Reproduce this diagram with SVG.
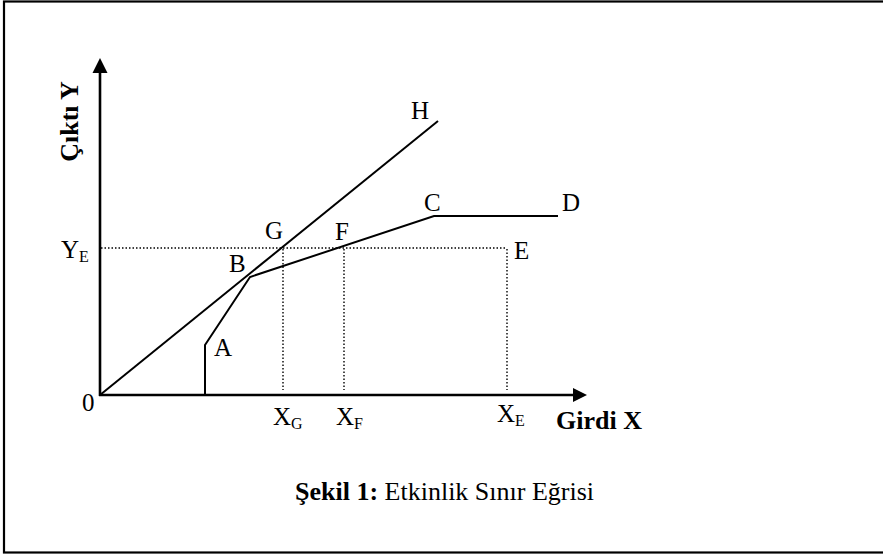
<svg xmlns="http://www.w3.org/2000/svg" width="883" height="555" viewBox="0 0 883 555">
<style>
text{font-family:"Liberation Serif","Times New Roman",serif;fill:#000}
.lbl{font-size:25px}
.sub{font-size:16px}
.bold{font-weight:bold;font-size:26px}
.cap{font-size:26px}
.axis{stroke:#000;stroke-width:2.6;fill:none}
.curve{stroke:#000;stroke-width:2;fill:none;stroke-linejoin:miter}
.dot{stroke:#000;stroke-width:1.4;stroke-dasharray:1.5 2;fill:none}
</style>
<rect x="0" y="0" width="883" height="555" fill="#fff"/>
<rect x="4" y="1.5" width="885" height="551" fill="none" stroke="#000" stroke-width="2.2"/>
<g id="connectors">
  <line class="axis" x1="100" y1="396" x2="100" y2="72"/>
  <polygon points="100,58 92.5,73 107.5,73" fill="#000"/>
  <line class="axis" x1="99" y1="395" x2="574" y2="395"/>
  <polygon points="587,395 573,388 573,402" fill="#000"/>
  <line class="curve" x1="100" y1="395" x2="438" y2="121"/>
  <polyline class="curve" points="205,395 205,345 250,277 434,216 558,216"/>
  <line class="dot" x1="101" y1="248" x2="507" y2="248"/>
  <line class="dot" x1="283" y1="249" x2="283" y2="390"/>
  <line class="dot" x1="344" y1="249" x2="344" y2="390"/>
  <line class="dot" x1="507" y1="249" x2="507" y2="390"/>
</g>
<g id="node-H"><text class="lbl" x="411" y="119">H</text></g>
<g id="node-C"><text class="lbl" x="424" y="211">C</text></g>
<g id="node-D"><text class="lbl" x="562" y="211">D</text></g>
<g id="node-G"><text class="lbl" x="265" y="239">G</text></g>
<g id="node-F"><text class="lbl" x="335" y="240">F</text></g>
<g id="node-E"><text class="lbl" x="514" y="259">E</text></g>
<g id="node-B"><text class="lbl" x="229" y="272">B</text></g>
<g id="node-A"><text class="lbl" x="214" y="356">A</text></g>
<g id="node-0"><text class="lbl" x="82" y="411">0</text></g>
<g id="node-YE"><text class="lbl" x="61" y="258">Y<tspan class="sub" dy="4">E</tspan></text></g>
<g id="node-XG"><text class="lbl" x="273" y="425">X<tspan class="sub" dy="4">G</tspan></text></g>
<g id="node-XF"><text class="lbl" x="336" y="425">X<tspan class="sub" dy="4">F</tspan></text></g>
<g id="node-XE"><text class="lbl" x="497" y="422">X<tspan class="sub" dy="4">E</tspan></text></g>
<g id="axis-x-label"><text class="bold" x="556" y="429">Girdi X</text></g>
<g id="axis-y-label"><text class="bold" text-anchor="middle" transform="translate(78,121.5) rotate(-90)">Çıktı Y</text></g>
<g id="caption"><text class="cap" x="295" y="500"><tspan font-weight="bold">Şekil 1:</tspan> Etkinlik Sınır Eğrisi</text></g>
</svg>
